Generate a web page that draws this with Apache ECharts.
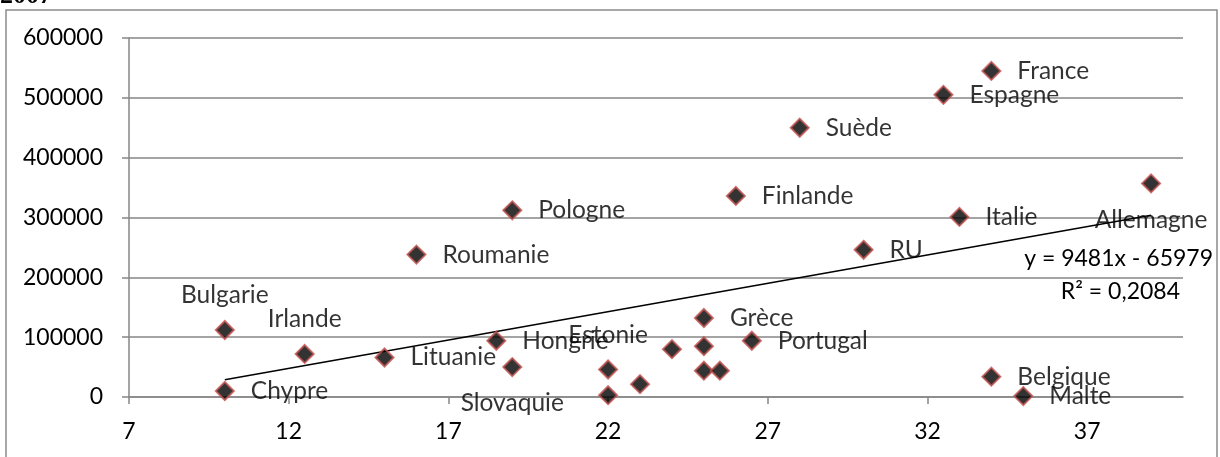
<!DOCTYPE html>
<html>
<head>
<meta charset="utf-8">
<style>
  html, body { margin: 0; padding: 0; background: #fff; }
  #chart { width: 1220px; height: 457px; }
</style>
<script src="https://cdn.jsdelivr.net/npm/echarts@6/dist/echarts.min.js"></script>
</head>
<body>
<div id="chart"></div>
<script>
// pays et valeurs (2007)
const countries = ['France', 'Espagne', 'Suède', 'Finlande', 'Pologne', 'Roumanie', 'Allemagne', 'Italie', 'RU',
  'Bulgarie', 'Irlande', 'Lituanie', 'Chypre', 'Hongrie', 'Slovaquie', 'Estonie', 'Grèce', 'Portugal',
  'Belgique', 'Malte', '', '', '', '', '', '']
const xValues = [34, 32.5, 28, 26, 19, 16, 39, 33, 30,
  10, 12.5, 15, 10, 18.5, 19, 22, 25, 26.5,
  34, 35, 22, 23, 24, 25, 25, 25.5]
const yValues = [545000, 505000, 450000, 336000, 312000, 238000, 357000, 301000, 246000,
  112000, 72000, 66000, 10000, 94000, 50000, 46000, 132000, 94000,
  34000, 1500, 3000, 21500, 80000, 85000, 44000, 44000]
const trendLine = [[10, 28800], [39, 303800]]
const xTicks = [7, 12, 17, 22, 27, 32, 37]
const equation = 'y = 9481x - 65979'
const rSquared = 'R² = 0,2084'

// placement des étiquettes (par défaut à droite)
const labelPlace = { Bulgarie: 'top', Irlande: 'top', Estonie: 'top', Allemagne: 'bottom', Slovaquie: 'bottom' }

const font = 'Lato'
const chart = echarts.init(document.getElementById('chart'))

const points = countries.map((name, i) => {
  const pos = labelPlace[name] || 'right'
  return {
    value: [xValues[i], yValues[i]],
    name: name,
    label: {
      show: name !== '',
      position: pos,
      distance: pos === 'right' ? 16 : (pos === 'top' ? 12 : 14)
    }
  }
})

chart.setOption({
  animation: false,
  textStyle: { fontFamily: font },
  grid: { left: 129, right: 37, top: 38, bottom: 60 },
  xAxis: {
    type: 'value',
    min: 7,
    max: 40,
    interval: 5,
    splitLine: { show: false },
    axisLine: { show: true, lineStyle: { color: '#868686', width: 1.5 } },
    axisTick: { show: true, length: 7, lineStyle: { color: '#868686', width: 1.5 }, customValues: xTicks },
    axisLabel: { color: '#000', fontSize: 23, fontFamily: font, margin: 23, customValues: xTicks }
  },
  yAxis: {
    type: 'value',
    min: 0,
    max: 600000,
    interval: 100000,
    splitLine: { show: true, lineStyle: { color: '#868686', width: 1.5 } },
    axisLine: { show: true, lineStyle: { color: '#868686', width: 1.5 } },
    axisTick: { show: true, length: 7, lineStyle: { color: '#868686', width: 1.5 } },
    axisLabel: {
      color: '#000',
      fontSize: 23,
      fontFamily: font,
      margin: 26,
      formatter: v => String(v)
    }
  },
  graphic: [
    {
      type: 'rect',
      shape: { x: 6, y: 10, width: 1211, height: 460 },
      style: { fill: 'none', stroke: '#8c8c8c', lineWidth: 1.5 },
      silent: true
    },
    {
      type: 'text',
      left: 0,
      top: -17,
      style: { text: '2007', font: 'bold 26px "Liberation Serif"', fill: '#000' }
    },
    {
      type: 'text',
      right: 7,
      top: 247,
      style: { text: equation, font: '23px ' + font, fill: '#000' }
    },
    {
      type: 'text',
      right: 40,
      top: 280,
      style: { text: rSquared, font: '23px ' + font, fill: '#000' }
    }
  ],
  series: [
    {
      type: 'line',
      data: trendLine,
      symbol: 'none',
      lineStyle: { color: '#000', width: 1.5 },
      z: 3
    },
    {
      type: 'scatter',
      data: points,
      symbol: 'diamond',
      symbolSize: 18,
      itemStyle: { color: '#000', borderColor: '#c0504d', borderWidth: 2 },
      label: {
        formatter: '{b}',
        color: '#000',
        fontSize: 24.5,
        fontFamily: font
      },
      z: 4
    }
  ]
})
</script>
</body>
</html>
